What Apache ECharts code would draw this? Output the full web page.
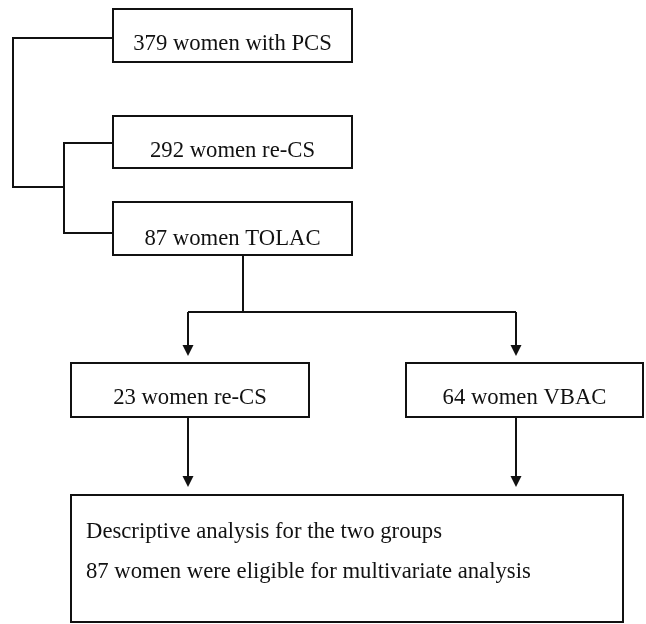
<!DOCTYPE html>
<html>
<head>
<meta charset="utf-8">
<script src="https://cdn.jsdelivr.net/npm/echarts@6/dist/echarts.min.js"></script>
<style>
html,body{margin:0;padding:0;background:#fff;}
#chart{width:646px;height:624px;}
</style>
</head>
<body>
<div id="chart"></div>
<script>
// ---- content ----
const boxLabels = ['379 women with PCS', '292 women re-CS', '87 women TOLAC', '23 women re-CS', '64 women VBAC'];
const summaryLines = ['Descriptive analysis for the two groups', '87 women were eligible for multivariate analysis'];

// ---- layout (canvas units) ----
const boxRects = [
  [113, 9, 352, 62],
  [113, 116, 352, 168],
  [113, 202, 352, 255],
  [71, 363, 309, 417],
  [406, 363, 643, 417]
];
const boxTextY = [44, 151, 239, 398, 398];
const summaryRect = [71, 495, 623, 622];
const summaryTextX = 86;
const summaryTextY = [532, 572];
const connectors = [
  [[113, 38], [13, 38], [13, 187], [64, 187]],
  [[113, 143], [64, 143], [64, 233], [113, 233]],
  [[243, 255], [243, 312]],
  [[188, 312], [516, 312]]
];
const arrows = [
  [[188, 312], [188, 356]],
  [[516, 312], [516, 356]],
  [[188, 417], [188, 487]],
  [[516, 417], [516, 487]]
];

const FONT = 'Liberation Serif, Times New Roman, serif';
const FS = 22.7;
const INK = '#111';

const chart = echarts.init(document.getElementById('chart'), null, {renderer: 'canvas'});

const boxData = boxLabels.map((t, i) => ({value: [...boxRects[i], boxTextY[i]], name: t}));

chart.setOption({
  backgroundColor: '#fff',
  animation: false,
  grid: {left: 0, right: 0, top: 0, bottom: 0},
  xAxis: {type: 'value', min: 0, max: 646, show: false},
  yAxis: {type: 'value', min: 0, max: 624, inverse: true, show: false},
  series: [
    {
      type: 'custom',
      name: 'connectors',
      data: connectors.map((pts, i) => ({value: [i]})),
      renderItem: function (params, api) {
        const pts = connectors[params.dataIndex].map(p => api.coord(p));
        return {type: 'polyline', shape: {points: pts}, style: {stroke: INK, lineWidth: 2, fill: null}};
      }
    },
    {
      type: 'custom',
      name: 'arrows',
      data: arrows.map((a, i) => ({value: [i]})),
      renderItem: function (params, api) {
        const a = arrows[params.dataIndex];
        const p0 = api.coord(a[0]);
        const p1 = api.coord(a[1]);
        const h = 11, w = 5.5;
        return {
          type: 'group',
          children: [
            {type: 'line', shape: {x1: p0[0], y1: p0[1], x2: p1[0], y2: p1[1] - h + 1}, style: {stroke: INK, lineWidth: 2}},
            {type: 'polygon', shape: {points: [[p1[0] - w, p1[1] - h], [p1[0] + w, p1[1] - h], [p1[0], p1[1]]]}, style: {fill: INK}}
          ]
        };
      }
    },
    {
      type: 'custom',
      name: 'boxes',
      data: boxData,
      renderItem: function (params, api) {
        const a = api.coord([api.value(0), api.value(1)]);
        const b = api.coord([api.value(2), api.value(3)]);
        const ty = api.coord([0, api.value(4)])[1];
        return {
          type: 'group',
          children: [
            {type: 'rect', shape: {x: a[0], y: a[1], width: b[0] - a[0], height: b[1] - a[1]}, style: {fill: '#fff', stroke: INK, lineWidth: 2}},
            {type: 'text', style: {text: boxLabels[params.dataIndex], x: (a[0] + b[0]) / 2, y: ty, align: 'center', verticalAlign: 'middle', font: FS + 'px ' + FONT, fill: '#111'}}
          ]
        };
      }
    },
    {
      type: 'custom',
      name: 'summary',
      data: [{value: summaryRect}],
      renderItem: function (params, api) {
        const a = api.coord([api.value(0), api.value(1)]);
        const b = api.coord([api.value(2), api.value(3)]);
        const children = [
          {type: 'rect', shape: {x: a[0], y: a[1], width: b[0] - a[0], height: b[1] - a[1]}, style: {fill: '#fff', stroke: INK, lineWidth: 2}}
        ];
        summaryLines.forEach((t, i) => {
          const p = api.coord([summaryTextX, summaryTextY[i]]);
          children.push({type: 'text', style: {text: t, x: p[0], y: p[1], align: 'left', verticalAlign: 'middle', font: FS + 'px ' + FONT, fill: '#111'}});
        });
        return {type: 'group', children: children};
      }
    }
  ]
});
</script>
</body>
</html>
